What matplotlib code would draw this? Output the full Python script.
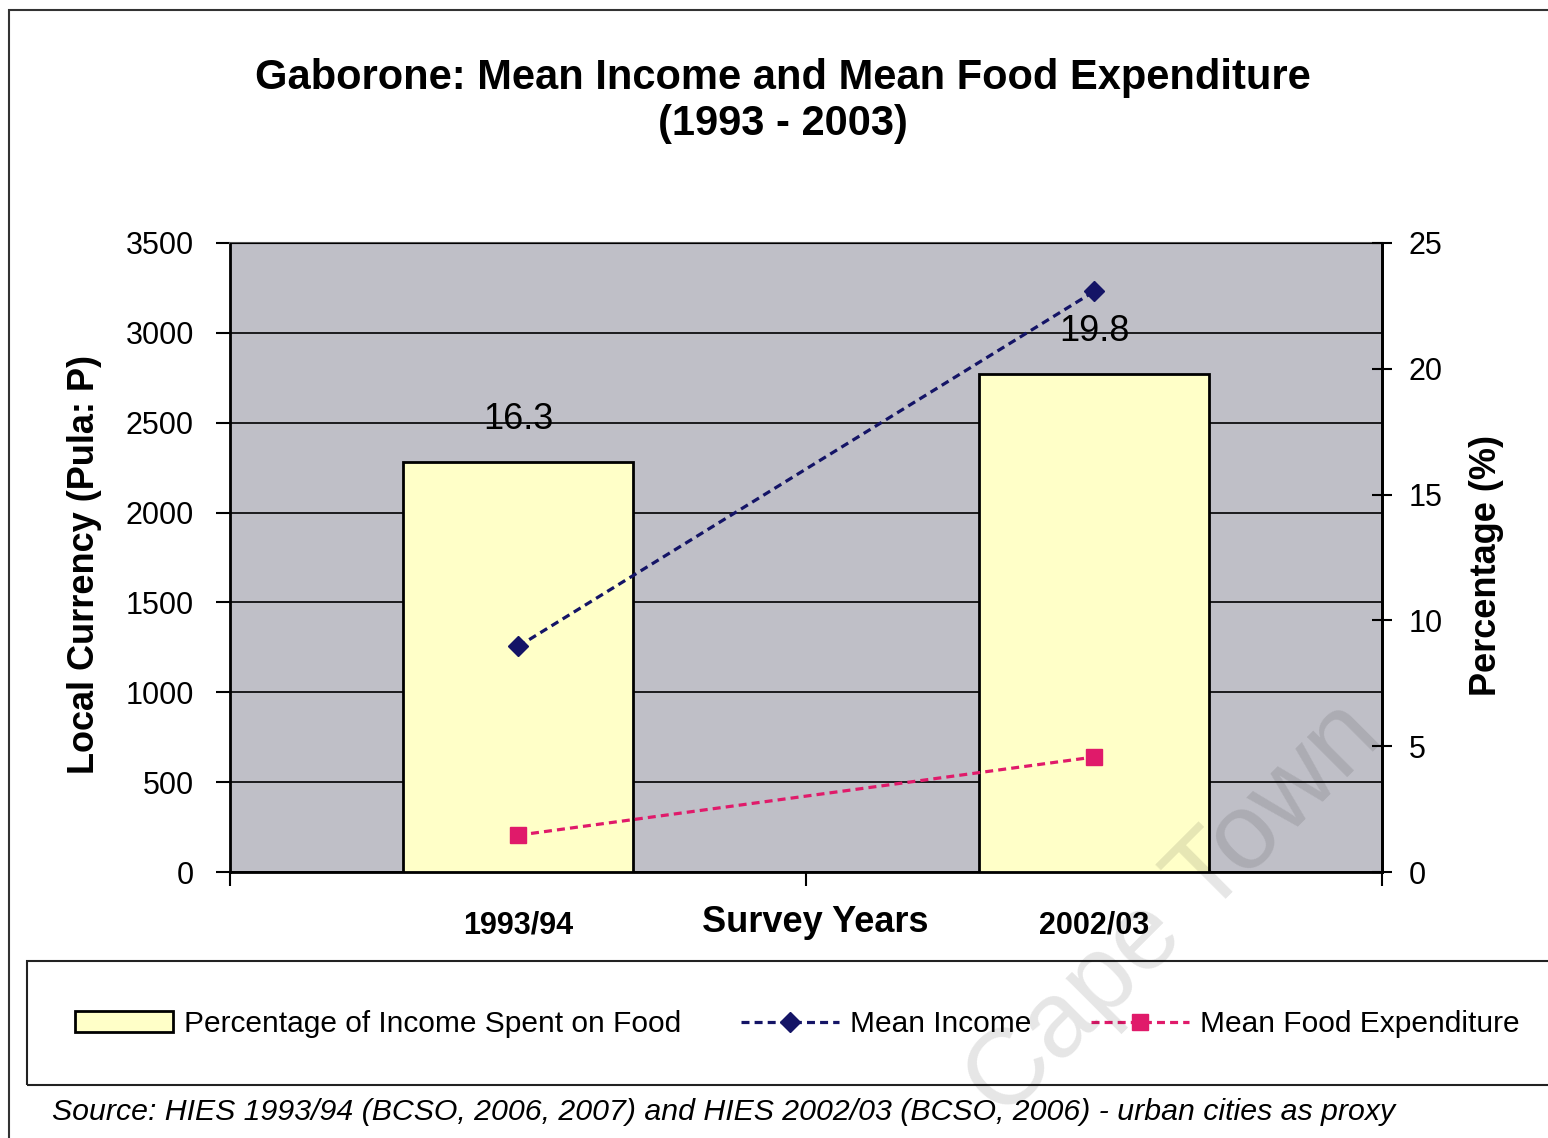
import matplotlib.pyplot as plt
from matplotlib.patches import Rectangle

plt.rcParams['font.family'] = ['Liberation Sans', 'DejaVu Sans']

# Data
years = ["1993/94", "2002/03"]
pct_food = [16.3, 19.8]          # % of income spent on food (right axis)
mean_income = [1255, 3230]       # Pula (left axis)
mean_food = [205, 640]           # Pula (left axis)

x = list(range(len(years)))

fig = plt.figure(figsize=(15.48, 11.38), dpi=100)

# base axis: income scale, grey background and grid
ax = fig.add_axes([0.1486, 0.2337, 0.7442, 0.5528])
ax.set_facecolor('#bfbfc7')
ax.set_xlim(-0.5, 1.5)
ax.set_ylim(0, 3500)
ax.set_yticks(range(0, 3501, 500))
ax.grid(axis='y', color='black', linewidth=1.2)
ax.tick_params(axis='y', labelsize=22, length=10, width=1.5, pad=16)
ax.set_xticks([-0.5, 0.5, 1.5])
ax.set_xticklabels([])
ax.tick_params(axis='x', length=10, width=1.5)
ax.set_xticks(x, minor=True)
ax.set_xticklabels(years, minor=True, fontsize=22, fontweight='bold')
ax.tick_params(axis='x', which='minor', length=0, pad=28)
for s in ['left', 'right', 'bottom']:
    ax.spines[s].set_linewidth(2)
ax.spines['top'].set_color('#555555')
ax.spines['top'].set_linewidth(1.5)

# bars on percentage axis
axp = ax.twinx()
axp.set_ylim(0, 25)
axp.set_yticks(range(0, 26, 5))
axp.tick_params(axis='y', labelsize=22, length=14, width=1.5, direction='inout', pad=12)
axp.spines['right'].set_linewidth(2)
bars = axp.bar(x, pct_food, width=0.4, color='#ffffc8', edgecolor='black',
               linewidth=2, label='Percentage of Income Spent on Food')
for b, v in zip(bars, pct_food):
    axp.annotate(f"{v}", (b.get_x() + b.get_width() / 2, v), xytext=(0, 18),
                 textcoords='offset points', ha='center', va='bottom', fontsize=26)

# lines on top, income scale
axl = ax.twinx()
axl.set_ylim(0, 3500)
axl.axis('off')
axl.plot(x, mean_income, color='#141466', linestyle=(0, (2.5, 1.6)), linewidth=2.3,
         marker='D', markersize=10, label='Mean Income')
axl.plot(x, mean_food, color='#e01a6a', linestyle=(0, (2.5, 1.6)), linewidth=2.3,
         marker='s', markersize=12, label='Mean Food Expenditure')

# titles and labels
fig.text(0.506, 1 - 101 / 1138, "Gaborone: Mean Income and Mean Food Expenditure\n(1993 - 2003)",
         ha='center', va='center', fontsize=30, fontweight='bold', linespacing=1.2)
fig.text(85 / 1548, 1 - 565 / 1138, "Local Currency (Pula: P)", rotation=90,
         ha='center', va='center', fontsize=26, fontweight='bold')
fig.text(1487 / 1548, 1 - 565 / 1138, "Percentage (%)", rotation=90,
         ha='center', va='center', fontsize=26, fontweight='bold')
fig.text(815 / 1548, 1 - 923 / 1138, "Survey Years", ha='center', va='center',
         fontsize=26, fontweight='bold')

# legend with its own box
h1, l1 = axp.get_legend_handles_labels()
h2, l2 = axl.get_legend_handles_labels()
fig.legend(h1 + h2, l1 + l2, loc='center', bbox_to_anchor=(0.515, 0.100), ncol=3,
           frameon=False, fontsize=21.5, handlelength=3.3, columnspacing=2.0,
           handletextpad=0.35)
fig.patches.append(Rectangle((27 / 1548, 1 - 1085 / 1138), 1.2, 124 / 1138,
                             transform=fig.transFigure, fill=False,
                             edgecolor='#222222', linewidth=1.5))
# outer frame
fig.patches.append(Rectangle((9 / 1548, -0.1), 1.2, 1.1 - 10 / 1138,
                             transform=fig.transFigure, fill=False,
                             edgecolor='#333333', linewidth=1.5))

fig.text(52 / 1548, 1 - 1112 / 1138,
         "Source: HIES 1993/94 (BCSO, 2006, 2007) and HIES 2002/03 (BCSO, 2006) - urban cities as proxy",
         ha='left', va='center', fontsize=21.8, fontstyle='italic')

# faint watermark
fig.text(1385 / 1548, 1 - 740 / 1138, "Cape Town", rotation=45,
         rotation_mode='anchor', ha='right', va='baseline', fontsize=78,
         color='black', alpha=0.1, zorder=10)

fig.savefig("out.png", dpi=100)
